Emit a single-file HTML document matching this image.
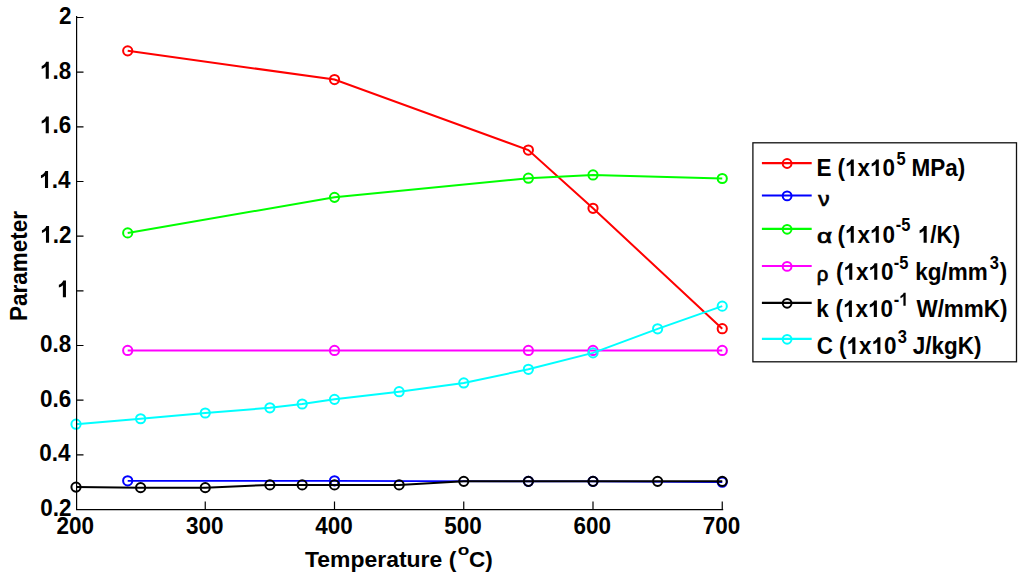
<!DOCTYPE html>
<html><head><meta charset="utf-8"><style>
html,body{margin:0;padding:0;background:#fff;width:1024px;height:584px;overflow:hidden}
svg{display:block}
text{font-family:"Liberation Sans",sans-serif;font-weight:bold;fill:#000}
</style></head><body>
<svg width="1024" height="584" viewBox="0 0 1024 584">
<rect width="1024" height="584" fill="#fff"/>
<polyline points="127.70,50.85 334.50,79.55 528.38,150.07 593.00,208.29 722.25,328.69" stroke="#ff0000" stroke-width="2.0" fill="none"/>
<circle cx="127.70" cy="50.85" r="4.6" stroke="#ff0000" stroke-width="2" fill="none"/>
<circle cx="334.50" cy="79.55" r="4.6" stroke="#ff0000" stroke-width="2" fill="none"/>
<circle cx="528.38" cy="150.07" r="4.6" stroke="#ff0000" stroke-width="2" fill="none"/>
<circle cx="593.00" cy="208.29" r="4.6" stroke="#ff0000" stroke-width="2" fill="none"/>
<circle cx="722.25" cy="328.69" r="4.6" stroke="#ff0000" stroke-width="2" fill="none"/>
<polyline points="127.70,480.80 334.50,480.80 528.38,481.35 593.00,481.35 722.25,482.17" stroke="#0000ff" stroke-width="1.7" fill="none"/>
<circle cx="127.70" cy="480.80" r="4.6" stroke="#0000ff" stroke-width="2" fill="none"/>
<circle cx="334.50" cy="480.80" r="4.6" stroke="#0000ff" stroke-width="2" fill="none"/>
<circle cx="528.38" cy="481.35" r="4.6" stroke="#0000ff" stroke-width="2" fill="none"/>
<circle cx="593.00" cy="481.35" r="4.6" stroke="#0000ff" stroke-width="2" fill="none"/>
<circle cx="722.25" cy="482.17" r="4.6" stroke="#0000ff" stroke-width="2" fill="none"/>
<polyline points="127.70,232.89 334.50,197.36 528.38,178.22 593.00,174.94 722.25,178.50" stroke="#00ff00" stroke-width="2.0" fill="none"/>
<circle cx="127.70" cy="232.89" r="4.6" stroke="#00ff00" stroke-width="2" fill="none"/>
<circle cx="334.50" cy="197.36" r="4.6" stroke="#00ff00" stroke-width="2" fill="none"/>
<circle cx="528.38" cy="178.22" r="4.6" stroke="#00ff00" stroke-width="2" fill="none"/>
<circle cx="593.00" cy="174.94" r="4.6" stroke="#00ff00" stroke-width="2" fill="none"/>
<circle cx="722.25" cy="178.50" r="4.6" stroke="#00ff00" stroke-width="2" fill="none"/>
<polyline points="127.70,350.42 334.50,350.42 528.38,350.42 593.00,350.42 722.25,350.42" stroke="#ff00ff" stroke-width="2.0" fill="none"/>
<circle cx="127.70" cy="350.42" r="4.6" stroke="#ff00ff" stroke-width="2" fill="none"/>
<circle cx="334.50" cy="350.42" r="4.6" stroke="#ff00ff" stroke-width="2" fill="none"/>
<circle cx="528.38" cy="350.42" r="4.6" stroke="#ff00ff" stroke-width="2" fill="none"/>
<circle cx="593.00" cy="350.42" r="4.6" stroke="#ff00ff" stroke-width="2" fill="none"/>
<circle cx="722.25" cy="350.42" r="4.6" stroke="#ff00ff" stroke-width="2" fill="none"/>
<polyline points="76.00,487.09 140.62,487.63 205.25,487.63 269.88,484.90 302.19,484.90 334.50,484.90 399.12,484.90 463.75,481.35 528.38,481.35 593.00,481.35 657.62,481.35 722.25,481.35" stroke="#000000" stroke-width="2.0" fill="none"/>
<circle cx="76.00" cy="487.09" r="4.6" stroke="#000000" stroke-width="2" fill="none"/>
<circle cx="140.62" cy="487.63" r="4.6" stroke="#000000" stroke-width="2" fill="none"/>
<circle cx="205.25" cy="487.63" r="4.6" stroke="#000000" stroke-width="2" fill="none"/>
<circle cx="269.88" cy="484.90" r="4.6" stroke="#000000" stroke-width="2" fill="none"/>
<circle cx="302.19" cy="484.90" r="4.6" stroke="#000000" stroke-width="2" fill="none"/>
<circle cx="334.50" cy="484.90" r="4.6" stroke="#000000" stroke-width="2" fill="none"/>
<circle cx="399.12" cy="484.90" r="4.6" stroke="#000000" stroke-width="2" fill="none"/>
<circle cx="463.75" cy="481.35" r="4.6" stroke="#000000" stroke-width="2" fill="none"/>
<circle cx="528.38" cy="481.35" r="4.6" stroke="#000000" stroke-width="2" fill="none"/>
<circle cx="593.00" cy="481.35" r="4.6" stroke="#000000" stroke-width="2" fill="none"/>
<circle cx="657.62" cy="481.35" r="4.6" stroke="#000000" stroke-width="2" fill="none"/>
<circle cx="722.25" cy="481.35" r="4.6" stroke="#000000" stroke-width="2" fill="none"/>
<polyline points="76.00,424.22 140.62,418.75 205.25,413.01 269.88,407.82 302.19,403.99 334.50,399.35 399.12,391.69 463.75,382.95 528.38,369.28 593.00,352.88 657.62,328.83 722.25,306.14" stroke="#00ffff" stroke-width="2.0" fill="none"/>
<circle cx="76.00" cy="424.22" r="4.6" stroke="#00ffff" stroke-width="2" fill="none"/>
<circle cx="140.62" cy="418.75" r="4.6" stroke="#00ffff" stroke-width="2" fill="none"/>
<circle cx="205.25" cy="413.01" r="4.6" stroke="#00ffff" stroke-width="2" fill="none"/>
<circle cx="269.88" cy="407.82" r="4.6" stroke="#00ffff" stroke-width="2" fill="none"/>
<circle cx="302.19" cy="403.99" r="4.6" stroke="#00ffff" stroke-width="2" fill="none"/>
<circle cx="334.50" cy="399.35" r="4.6" stroke="#00ffff" stroke-width="2" fill="none"/>
<circle cx="399.12" cy="391.69" r="4.6" stroke="#00ffff" stroke-width="2" fill="none"/>
<circle cx="463.75" cy="382.95" r="4.6" stroke="#00ffff" stroke-width="2" fill="none"/>
<circle cx="528.38" cy="369.28" r="4.6" stroke="#00ffff" stroke-width="2" fill="none"/>
<circle cx="593.00" cy="352.88" r="4.6" stroke="#00ffff" stroke-width="2" fill="none"/>
<circle cx="657.62" cy="328.83" r="4.6" stroke="#00ffff" stroke-width="2" fill="none"/>
<circle cx="722.25" cy="306.14" r="4.6" stroke="#00ffff" stroke-width="2" fill="none"/>
<path d="M76.6,16V509.6H723.2 M76,509.50H83.5 M76,454.83H83.5 M76,400.17H83.5 M76,345.50H83.5 M76,290.84H83.5 M76,236.17H83.5 M76,181.50H83.5 M76,126.84H83.5 M76,72.17H83.5 M76,17.51H83.5 M205.25,509.5V501.5 M334.50,509.5V501.5 M463.75,509.5V501.5 M593.00,509.5V501.5 M722.25,509.5V501.5" stroke="#000" stroke-width="1.2" fill="none"/>
<rect x="752.9" y="142.8" width="263.6" height="219" fill="#fff" stroke="#111" stroke-width="1.3"/>
<path d="M761.9,163.1H811.7" stroke="#ff0000" stroke-width="2.2"/>
<circle cx="787.1" cy="163.5" r="4.4" stroke="#ff0000" stroke-width="2.0" fill="none"/>
<path d="M761.9,195.5H811.7" stroke="#0000ff" stroke-width="2.2"/>
<circle cx="787.1" cy="195.9" r="4.4" stroke="#0000ff" stroke-width="2.0" fill="none"/>
<path d="M761.9,228.9H811.7" stroke="#00ff00" stroke-width="2.2"/>
<circle cx="787.1" cy="229.3" r="4.4" stroke="#00ff00" stroke-width="2.0" fill="none"/>
<path d="M761.9,266.0H811.7" stroke="#ff00ff" stroke-width="2.2"/>
<circle cx="787.1" cy="266.4" r="4.4" stroke="#ff00ff" stroke-width="2.0" fill="none"/>
<path d="M761.9,302.9H811.7" stroke="#000000" stroke-width="2.2"/>
<circle cx="787.1" cy="303.29999999999995" r="4.4" stroke="#000000" stroke-width="2.0" fill="none"/>
<path d="M761.9,338.9H811.7" stroke="#00ffff" stroke-width="2.2"/>
<circle cx="787.1" cy="339.29999999999995" r="4.4" stroke="#00ffff" stroke-width="2.0" fill="none"/>
<text transform="translate(40.15,516.02) scale(1,1.05)" font-size="22.5">0.2</text>
<text transform="translate(39.15,461.36) scale(1,1.05)" font-size="22.5">0.4</text>
<text transform="translate(39.90,406.69) scale(1,1.05)" font-size="22.5">0.6</text>
<text transform="translate(39.90,352.03) scale(1,1.05)" font-size="22.5">0.8</text>
<path transform="translate(57.05,297.36) scale(1,1.05) translate(0.00,0.00) scale(0.010986,-0.010986)" d="M811 0H530V1059C428 961 296 888 164 846V1100C234 1123 310 1166 392 1230C474 1294 531 1368 562 1466H811Z"/>
<text transform="translate(40.15,242.82) scale(1,1.05)" font-size="22.5"> .2</text>
<path transform="translate(40.15,242.82) scale(1,1.05) translate(0.00,0.00) scale(0.010986,-0.010986)" d="M811 0H530V1059C428 961 296 888 164 846V1100C234 1123 310 1166 392 1230C474 1294 531 1368 562 1466H811Z"/>
<text transform="translate(39.15,188.03) scale(1,1.05)" font-size="22.5"> .4</text>
<path transform="translate(39.15,188.03) scale(1,1.05) translate(0.00,0.00) scale(0.010986,-0.010986)" d="M811 0H530V1059C428 961 296 888 164 846V1100C234 1123 310 1166 392 1230C474 1294 531 1368 562 1466H811Z"/>
<text transform="translate(39.90,133.36) scale(1,1.05)" font-size="22.5"> .6</text>
<path transform="translate(39.90,133.36) scale(1,1.05) translate(0.00,0.00) scale(0.010986,-0.010986)" d="M811 0H530V1059C428 961 296 888 164 846V1100C234 1123 310 1166 392 1230C474 1294 531 1368 562 1466H811Z"/>
<text transform="translate(39.90,78.70) scale(1,1.05)" font-size="22.5"> .8</text>
<path transform="translate(39.90,78.70) scale(1,1.05) translate(0.00,0.00) scale(0.010986,-0.010986)" d="M811 0H530V1059C428 961 296 888 164 846V1100C234 1123 310 1166 392 1230C474 1294 531 1368 562 1466H811Z"/>
<text transform="translate(58.90,24.16) scale(1,1.05)" font-size="22.5">2</text>
<text transform="translate(56.58,533.73) scale(1,1.05)" font-size="22.5">200</text>
<text transform="translate(185.95,533.73) scale(1,1.05)" font-size="22.5">300</text>
<text transform="translate(315.32,533.73) scale(1,1.05)" font-size="22.5">400</text>
<text transform="translate(444.32,533.73) scale(1,1.05)" font-size="22.5">500</text>
<text transform="translate(573.58,533.73) scale(1,1.05)" font-size="22.5">600</text>
<text transform="translate(702.70,533.73) scale(1,1.05)" font-size="22.5">700</text>
<text transform="translate(305.05,567.00) scale(1.011,1.0)" font-size="22.7">Temperature (</text>
<text transform="translate(457.84,554.85) scale(1.15,0.93)" font-size="16.5">o</text>
<text transform="translate(469.00,567.00) scale(1,1.0)" font-size="22.5">C)</text>
<text transform="translate(816.40,176.00) scale(1,1.03)" font-size="22.5">E</text>
<text transform="translate(837.40,176.00) scale(1,1.03)" font-size="22.5">( x 0</text>
<path transform="translate(837.40,176.00) scale(1,1.03) translate(7.48,0.00) scale(0.010986,-0.010986)" d="M811 0H530V1059C428 961 296 888 164 846V1100C234 1123 310 1166 392 1230C474 1294 531 1368 562 1466H811Z"/>
<path transform="translate(837.40,176.00) scale(1,1.03) translate(32.49,0.00) scale(0.010986,-0.010986)" d="M811 0H530V1059C428 961 296 888 164 846V1100C234 1123 310 1166 392 1230C474 1294 531 1368 562 1466H811Z"/>
<text transform="translate(896.40,164.70) scale(1,1.1)" font-size="16.5">5</text>
<text transform="translate(911.50,176.00) scale(1,1.03)" font-size="22.5">MPa)</text>
<text transform="translate(817.12,242.70) scale(1.16,0.9)" font-size="22.5" style="font-weight:normal" stroke="#000" stroke-width="0.8">α</text>
<text transform="translate(837.40,242.70) scale(1,1.03)" font-size="22.5">( x 0</text>
<path transform="translate(837.40,242.70) scale(1,1.03) translate(7.48,0.00) scale(0.010986,-0.010986)" d="M811 0H530V1059C428 961 296 888 164 846V1100C234 1123 310 1166 392 1230C474 1294 531 1368 562 1466H811Z"/>
<path transform="translate(837.40,242.70) scale(1,1.03) translate(32.49,0.00) scale(0.010986,-0.010986)" d="M811 0H530V1059C428 961 296 888 164 846V1100C234 1123 310 1166 392 1230C474 1294 531 1368 562 1466H811Z"/>
<text transform="translate(895.65,231.40) scale(1,1.1)" font-size="16.5">-5</text>
<text transform="translate(917.80,242.70) scale(1,1.03)" font-size="22.5"> /K)</text>
<path transform="translate(917.80,242.70) scale(1,1.03) translate(0.00,0.00) scale(0.010986,-0.010986)" d="M811 0H530V1059C428 961 296 888 164 846V1100C234 1123 310 1166 392 1230C474 1294 531 1368 562 1466H811Z"/>
<text transform="translate(816.70,280.60) scale(0.9,0.87)" font-size="22.5" style="font-weight:normal" stroke="#000" stroke-width="0.8">ρ</text>
<text transform="translate(835.90,279.80) scale(1,1.03)" font-size="22.5">( x 0</text>
<path transform="translate(835.90,279.80) scale(1,1.03) translate(7.48,0.00) scale(0.010986,-0.010986)" d="M811 0H530V1059C428 961 296 888 164 846V1100C234 1123 310 1166 392 1230C474 1294 531 1368 562 1466H811Z"/>
<path transform="translate(835.90,279.80) scale(1,1.03) translate(32.49,0.00) scale(0.010986,-0.010986)" d="M811 0H530V1059C428 961 296 888 164 846V1100C234 1123 310 1166 392 1230C474 1294 531 1368 562 1466H811Z"/>
<text transform="translate(893.65,268.50) scale(1,1.1)" font-size="16.5">-5</text>
<text transform="translate(915.20,279.80) scale(1,1.03)" font-size="22.5">kg/mm</text>
<text transform="translate(816.20,317.00) scale(1,1.03)" font-size="22.5">k</text>
<text transform="translate(835.50,317.00) scale(1,1.03)" font-size="22.5">( x 0</text>
<path transform="translate(835.50,317.00) scale(1,1.03) translate(7.48,0.00) scale(0.010986,-0.010986)" d="M811 0H530V1059C428 961 296 888 164 846V1100C234 1123 310 1166 392 1230C474 1294 531 1368 562 1466H811Z"/>
<path transform="translate(835.50,317.00) scale(1,1.03) translate(32.49,0.00) scale(0.010986,-0.010986)" d="M811 0H530V1059C428 961 296 888 164 846V1100C234 1123 310 1166 392 1230C474 1294 531 1368 562 1466H811Z"/>
<text transform="translate(893.65,305.70) scale(1,1.1)" font-size="16.5">- </text>
<path transform="translate(893.65,305.70) scale(1,1.1) translate(5.48,0.00) scale(0.008057,-0.008057)" d="M811 0H530V1059C428 961 296 888 164 846V1100C234 1123 310 1166 392 1230C474 1294 531 1368 562 1466H811Z"/>
<text transform="translate(916.40,317.00) scale(1,1.03)" font-size="22.5">W/mmK)</text>
<text transform="translate(816.70,353.90) scale(1,1.03)" font-size="22.5">C</text>
<text transform="translate(839.00,353.90) scale(1,1.03)" font-size="22.5">( x 0</text>
<path transform="translate(839.00,353.90) scale(1,1.03) translate(7.48,0.00) scale(0.010986,-0.010986)" d="M811 0H530V1059C428 961 296 888 164 846V1100C234 1123 310 1166 392 1230C474 1294 531 1368 562 1466H811Z"/>
<path transform="translate(839.00,353.90) scale(1,1.03) translate(32.49,0.00) scale(0.010986,-0.010986)" d="M811 0H530V1059C428 961 296 888 164 846V1100C234 1123 310 1166 392 1230C474 1294 531 1368 562 1466H811Z"/>
<text transform="translate(897.70,342.60) scale(1,1.1)" font-size="16.5">3</text>
<text transform="translate(912.80,353.90) scale(1,1.03)" font-size="22.5">J/kgK)</text>
<text transform="translate(989.70,268.50) scale(1,1.1)" font-size="16.5">3</text>
<text transform="translate(999.75,279.80) scale(1,1.03)" font-size="22.5">)</text>
<text transform="translate(818.30,205.50) scale(1,0.9)" font-size="22.5" style="font-weight:normal" stroke="#000" stroke-width="0.8">ν</text>
<text transform="translate(26.60,320.90) rotate(-90) scale(1,1.03)" font-size="22.5">Parameter</text>
</svg></body></html>
